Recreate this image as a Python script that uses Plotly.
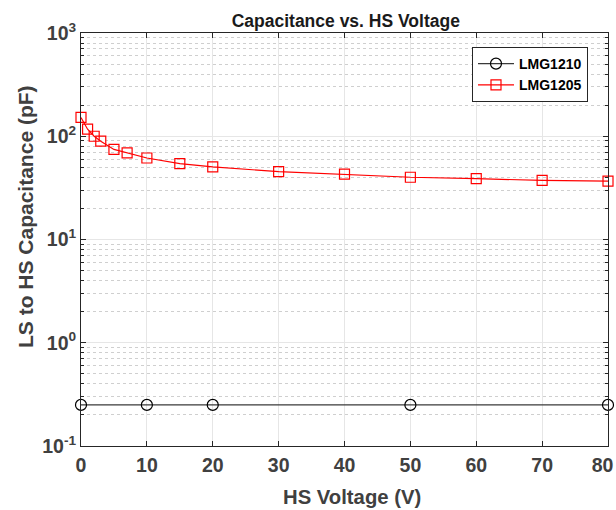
import plotly.graph_objects as go

# LMG1210
x_1210 = [0, 10, 20, 50, 80]
c_1210 = [0.25, 0.25, 0.25, 0.25, 0.25]

# LMG1205
x_1205 = [0, 1, 2, 3, 5, 7, 10, 15, 20, 30, 40, 50, 60, 70, 80]
c_1205 = [152, 117, 100, 89.5, 74.5, 69, 61.6, 54.4, 50.4, 45.5, 42.9, 40.1, 38.9, 37.3, 36.7]

y_tickvals = [0.1, 1, 10, 100, 1000]
y_ticktext = ["10<sup>-1</sup>", "10<sup>0</sup>", "10<sup>1</sup>", "10<sup>2</sup>", "10<sup>3</sup>"]
y_minorvals = [m * d for d in [0.1, 1, 10, 100] for m in range(2, 10)]
x_tickvals = [0, 10, 20, 30, 40, 50, 60, 70, 80]
x_ticktext = ["0", "10", "20", "30", "40", "50", "60", "70", "80\u00a0\u00a0"]

FONT = "Liberation Sans, Arial, Helvetica, sans-serif"
AX = "#262626"
LBL = "#404040"

W, H = 616, 510
L, R, T, B = 81, 8, 33, 64
PW, PH = W - L - R, H - T - B


def px_x(p):
    return (p - L) / PW


def px_y(p):
    return 1 - (p - T) / PH


fig = go.Figure()
fig.add_trace(go.Scatter(
    x=x_1210, y=c_1210, name="LMG1210", mode="lines+markers",
    line=dict(color="#3a3a3a", width=1.2),
    marker=dict(symbol="circle-open", size=11, color="#000000", line=dict(width=1.2)),
    cliponaxis=False,
))
fig.add_trace(go.Scatter(
    x=x_1205, y=c_1205, name="LMG1205", mode="lines+markers",
    line=dict(color="#ff0000", width=1.2),
    marker=dict(symbol="square-open", size=10, color="#ff0000", line=dict(width=1.2)),
    cliponaxis=False,
))

fig.update_layout(
    width=W, height=H,
    margin=dict(l=L, r=R, t=T, b=B, autoexpand=False),
    paper_bgcolor="white", plot_bgcolor="white",
    font=dict(family=FONT, color=LBL),
    title=dict(text="<b>Capacitance vs. HS Voltage</b>", x=345.8 / W,
               xanchor="center", y=1 - 21 / H, yanchor="middle",
               font=dict(size=17.5, color="#1a1a1a", family=FONT)),
    showlegend=True,
    legend=dict(x=px_x(588), y=px_y(47), xanchor="right", yanchor="top",
                bgcolor="white", bordercolor=AX, borderwidth=1,
                font=dict(size=14, color="#000000", family=FONT, weight="bold"),
                tracegroupgap=0, itemwidth=36),
    annotations=[
        dict(text="<b>HS Voltage (V)</b>", xref="paper", yref="paper",
             x=px_x(351.7), y=px_y(497), xanchor="center", yanchor="middle",
             showarrow=False, font=dict(size=20.3, color=LBL, family=FONT)),
        dict(text="<b>LS to HS Capacitance (pF)</b>", xref="paper", yref="paper",
             x=px_x(25), y=px_y(217), xanchor="center", yanchor="middle", textangle=-90,
             showarrow=False, font=dict(size=21, color=LBL, family=FONT)),
    ],
)

fig.update_xaxes(
    range=[0, 80], tickvals=x_tickvals, ticktext=x_ticktext, ticks="inside", ticklen=5, tickcolor=AX,
    showline=True, linecolor=AX, linewidth=1, mirror="ticks", automargin=False,
    showgrid=True, gridcolor="#e6e6e6", gridwidth=1, zeroline=False,
    tickfont=dict(size=19.5, color=LBL, family=FONT, weight="bold"), ticklabelstandoff=2,
    ticklabeloverflow="allow",
)
fig.update_yaxes(
    type="log", range=[-1, 3], tickvals=y_tickvals, ticktext=y_ticktext,
    ticks="inside", ticklen=5, tickcolor=AX, automargin=False,
    showline=True, linecolor=AX, linewidth=1, mirror="ticks",
    showgrid=True, gridcolor="#e6e6e6", gridwidth=1, zeroline=False,
    tickfont=dict(size=19.5, color=LBL, family=FONT, weight="bold"),
    ticklabeloverflow="allow",
    minor=dict(tickvals=y_minorvals, ticks="inside", ticklen=3, tickcolor=AX, showgrid=True,
               gridcolor="#cfcfcf", griddash="dot", gridwidth=1),
)

fig.write_html("out.html", config={"displayModeBar": False},
               post_script="document.body.style.margin='0';")
